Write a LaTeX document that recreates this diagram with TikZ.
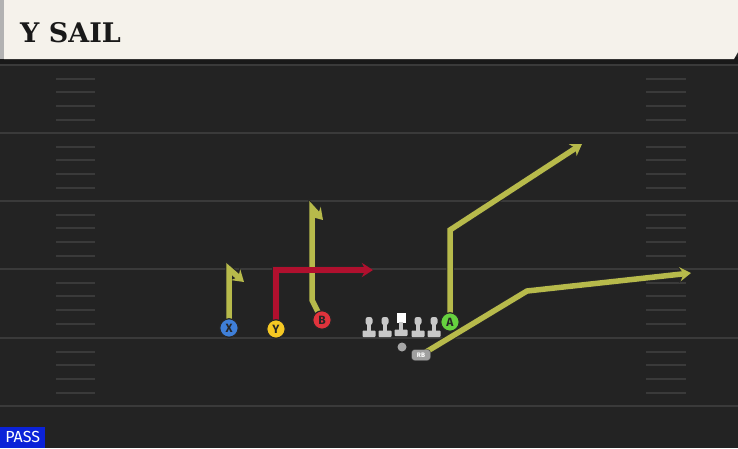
\documentclass[tikz,border=0pt]{standalone}
\usepackage{fontspec}
\usetikzlibrary{arrows.meta}
\newfontfamily\titlefont{DejaVu Serif}
\newfontfamily\labfont{Fira Sans}
\definecolor{fieldbg}{HTML}{232323}
\definecolor{yardln}{HTML}{3A3A3A}
\definecolor{cream}{HTML}{F5F2EB}
\definecolor{routey}{HTML}{B7BA4B}
\definecolor{router}{HTML}{B0102E}
\definecolor{plX}{HTML}{3F7FD8}
\definecolor{plY}{HTML}{F5C823}
\definecolor{plB}{HTML}{E0333C}
\definecolor{plA}{HTML}{66D13F}
\definecolor{olgray}{HTML}{C8C8C8}
\definecolor{passblue}{HTML}{0B22D8}
\pgfdeclarelayer{fieldlayer}
\pgfdeclarelayer{routelayer}
\pgfsetlayers{fieldlayer,routelayer,main}
\tikzset{
  player/.style={circle,draw=black!85,line width=1.2pt,minimum size=18.5pt,inner sep=0pt,
    font=\labfont\bfseries\fontsize{12}{12}\selectfont,text=black!85},
  routeout/.style={line width=7.5pt,draw=black!85,-{Stealth[length=13pt,width=17pt,inset=4pt]}},
  routein/.style={line width=5.5pt,-{Stealth[length=11pt,width=14pt,inset=3.5pt]}},
  yardline/.style={draw=yardln,line width=2pt},
  hashmark/.style={draw=yardln,line width=2pt},
  lineman/.style={fill=olgray},
}
\begin{document}
\begin{tikzpicture}[x=1pt,y=-1pt]
\useasboundingbox (0,0) rectangle (738,448);
\begin{pgfonlayer}{fieldlayer}
  \fill[fieldbg] (0,0) rectangle (738,448);
  \foreach \yy in {65,133,201,269,338,406} {
    \draw[yardline] (0,\yy) -- (738,\yy);
  }
  \foreach \yy in {65,133,201,269,338} {
    \foreach \dd in {14,27,41,55} {
      \draw[hashmark] (56,\yy+\dd) -- (95,\yy+\dd);
      \draw[hashmark] (646,\yy+\dd) -- (686,\yy+\dd);
    }
  }
  % title bar
  \fill[black!90] (0,57) rectangle (738,64);
  \fill[gray!60] (0,0) rectangle (4,59);
  \fill[cream] (4,0) -- (738,0) -- (738,52) -- (734,59) -- (4,59) -- cycle;
\end{pgfonlayer}
\node[anchor=west,inner sep=0pt,font=\titlefont\bfseries\fontsize{27}{27}\selectfont,text=black!90] (title) at (20,33) {Y SAIL};
\node[anchor=south west,fill=passblue,text=white,inner sep=0pt,minimum width=45pt,minimum height=21pt,
  font=\labfont\fontsize{16}{16}\selectfont] (pass) at (0,448) {PASS};

% players
\node[player,fill=plX] (X) at (229,328) {X};
\node[player,fill=plY] (Y) at (276,329) {Y};
\node[player,fill=plB] (B) at (322,320) {B};
\node[player,fill=plA] (A) at (450,322) {A};
% line
\foreach \lx/\nm in {369/L1,385/L2,418/L4,434/L5} {
  \fill[lineman,rounded corners=2.5pt] (\lx-3.5,317) rectangle (\lx+3.5,325);
  \fill[lineman] (\lx-2.2,323) rectangle (\lx+2.2,332);
  \fill[lineman,rounded corners=0.8pt] (\lx-6.5,330.5) rectangle (\lx+6.5,337);
  \coordinate (\nm) at (\lx,328);
}
\fill[white] (396.5,312.5) rectangle (405.5,323);
\fill[lineman] (398.8,322) rectangle (403.2,331);
\fill[lineman,rounded corners=0.8pt] (394.5,329.5) rectangle (407.5,336);
\node[circle,fill=gray!70,inner sep=0pt,minimum size=9pt] (QB) at (402,347) {};
\node[draw=black!80,fill=gray!75,rounded corners=3pt,inner sep=0pt,minimum width=19pt,minimum height=11pt,
  font=\labfont\bfseries\fontsize{6.5}{6.5}\selectfont,text=white] (RB) at (421,355) {RB};

% route bends
\coordinate (x1) at (229,269);
\coordinate (x2) at (244,282);
\coordinate (y1) at (276,270);
\coordinate (y2) at (373,270);
\coordinate (b1) at (312,300);
\coordinate (b2) at (312,208);
\coordinate (b3) at (323,220);
\coordinate (a1) at (450,230);
\coordinate (a2) at (582,144);
\coordinate (r1) at (527,291);
\coordinate (r2) at (691,273);

\begin{pgfonlayer}{routelayer}
  \draw[routeout] (X.center) -- (x1) -- (x2);
  \draw[routeout] (B.center) -- (b1) -- (b2) -- (b3);
  \draw[routeout] (A.center) -- (a1) -- (a2);
  \draw[routeout] (RB.center) -- (r1) -- (r2);
  \draw[routeout] (Y.center) -- (y1) -- (y2);
  \draw[routein,draw=routey] (X.center) -- (x1) -- (x2);
  \draw[routein,draw=routey] (B.center) -- (b1) -- (b2) -- (b3);
  \draw[routein,draw=routey] (A.center) -- (a1) -- (a2);
  \draw[routein,draw=routey] (RB.center) -- (r1) -- (r2);
  \draw[routein,draw=router] (Y.center) -- (y1) -- (y2);
\end{pgfonlayer}
\end{tikzpicture}
\end{document}
